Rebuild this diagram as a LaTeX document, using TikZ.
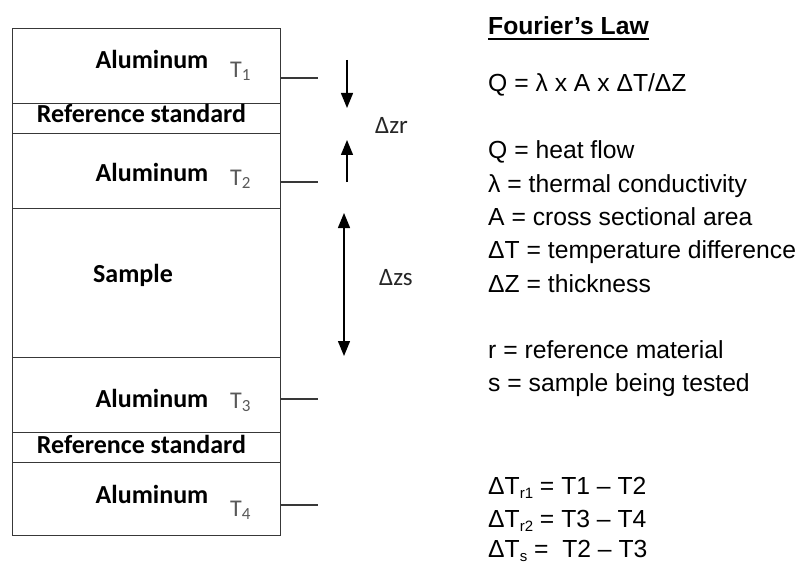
\documentclass[tikz,border=0pt]{standalone}
\usepackage{fontspec}
\setmainfont{Liberation Sans}
\newfontfamily\calb{Carlito}
\usetikzlibrary{arrows.meta}
\tikzset{
  layer/.style={draw=black!78, line width=1.4pt, minimum width=268pt, inner sep=0pt, anchor=north west},
  lbl/.style={font=\calb\bfseries\fontsize{26}{26}\selectfont, inner sep=0pt, anchor=base},
  tlbl/.style={font=\calb\fontsize{24}{24}\selectfont, text=black!65, inner sep=0pt, anchor=base west},
  dz/.style={font=\calb\fontsize{25}{25}\selectfont, text=black!85, inner sep=0pt, anchor=base west},
  txt/.style={font=\fontsize{24.7}{24.7}\selectfont, inner sep=0pt, anchor=base west},
  tick/.style={draw=black!78, line width=1.3pt},
  arr/.style={draw=black, line width=1.4pt, -{Triangle[length=15pt,width=12pt]}},
  darr/.style={draw=black, line width=1.4pt, {Triangle[length=15pt,width=12pt]}-{Triangle[length=15pt,width=12pt]}}
}
\newcommand{\lsub}[1]{\raisebox{-4pt}{\fontsize{15}{15}\selectfont #1}}
\newcommand{\tsub}[1]{\raisebox{-3pt}{\fontsize{17}{17}\selectfont #1}}
\begin{document}
\begin{tikzpicture}[x=1pt,y=-1pt]
\useasboundingbox[fill=white] (0,0) rectangle (802,564);
% layers
\node[layer, minimum height=75pt] (al1) at (12,28) {};
\node[layer, minimum height=30pt] (rs1) at (12,103) {};
\node[layer, minimum height=75pt] (al2) at (12,133) {};
\node[layer, minimum height=149pt] (smp) at (12,208) {};
\node[layer, minimum height=75pt] (al3) at (12,357) {};
\node[layer, minimum height=30pt] (rs2) at (12,432) {};
\node[layer, minimum height=73pt] (al4) at (12,462) {};
% labels
\node[lbl] (lal1) at (152,69) {Aluminum};
\node[lbl] (lrs1) at (141.5,123) {Reference standard};
\node[lbl] (lal2) at (152,182) {Aluminum};
\node[lbl] (lsmp) at (133,282) {Sample};
\node[lbl] (lal3) at (152,407) {Aluminum};
\node[lbl] (lrs2) at (141.5,453) {Reference standard};
\node[lbl] (lal4) at (152,503) {Aluminum};
% temperature labels
\node[tlbl] (T1) at (230,78) {T\tsub{1}};
\node[tlbl] (T2) at (230,185) {T\tsub{2}};
\node[tlbl] (T3) at (230,408) {T\tsub{3}};
\node[tlbl] (T4) at (230,516) {T\tsub{4}};
% ticks
\coordinate (t1a) at (280,78);  \coordinate (t1b) at (318,78);
\coordinate (t2a) at (280,182); \coordinate (t2b) at (318,182);
\coordinate (t3a) at (280,399); \coordinate (t3b) at (318,399);
\coordinate (t4a) at (280,505); \coordinate (t4b) at (318,505);
\draw[tick] (t1a) -- (t1b);
\draw[tick] (t2a) -- (t2b);
\draw[tick] (t3a) -- (t3b);
\draw[tick] (t4a) -- (t4b);
% arrows
\coordinate (a1s) at (347,60);  \coordinate (a1e) at (347,108);
\coordinate (a2s) at (347,182); \coordinate (a2e) at (347,140);
\coordinate (a3s) at (344,213); \coordinate (a3e) at (344,356);
\draw[arr] (a1s) -- (a1e);
\draw[arr] (a2s) -- (a2e);
\draw[darr] (a3s) -- (a3e);
\node[dz] (dzr) at (375,134) {Δzr};
\node[dz] (dzs) at (379,285) {Δzs};
% right text
\node[txt, font=\bfseries\fontsize{24.7}{24.7}\selectfont] (fl) at (488,35) {Fourier’s Law};
\draw[line width=1.6pt] ([yshift=-4pt]fl.base west) -- ([yshift=-4pt]fl.base east);
\node[txt] (eq) at (488,92) {Q = λ x A x ΔT/ΔZ};
\node[txt] (d1) at (488,159) {Q = heat flow};
\node[txt] (d2) at (488,192) {λ = thermal conductivity};
\node[txt] (d3) at (488,225) {A = cross sectional area};
\node[txt] (d4) at (488,258) {ΔT = temperature difference};
\node[txt] (d5) at (488,292) {ΔZ = thickness};
\node[txt] (r1) at (488,358) {r = reference material};
\node[txt] (r2) at (488,391) {s = sample being tested};
\node[txt] (e1) at (488,494) {ΔT\lsub{r1} = T1 – T2};
\node[txt] (e2) at (488,527) {ΔT\lsub{r2} = T3 – T4};
\node[txt] (e3) at (488,557) {ΔT\lsub{s} = \ T2 – T3};
\end{tikzpicture}
\end{document}
